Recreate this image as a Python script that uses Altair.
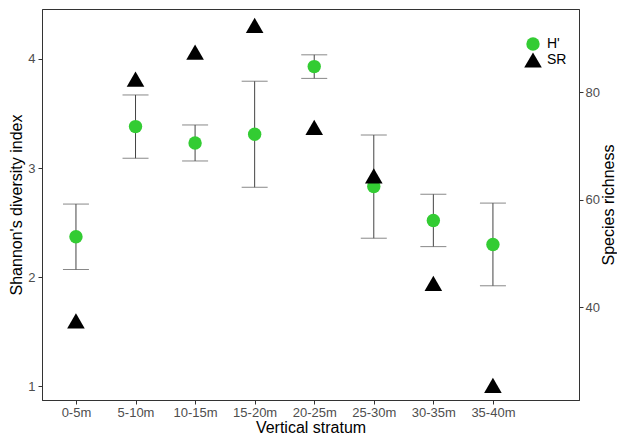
import altair as alt
import pandas as pd

# ---- data ----
strata = ["0-5m", "5-10m", "10-15m", "15-20m", "20-25m", "25-30m", "30-35m", "35-40m"]
shannon = [2.37, 3.38, 3.23, 3.31, 3.93, 2.83, 2.52, 2.30]
shannon_err = [0.30, 0.29, 0.165, 0.486, 0.108, 0.473, 0.24, 0.379]
richness = [37, 82, 87, 92, 73, 64, 44, 25]
series_names = ["H'", "SR"]
left_ticks = [1, 2, 3, 4]
right_ticks = [40, 60, 80]

idx = list(range(1, len(strata) + 1))
df_h = pd.DataFrame({"idx": idx, "stratum": strata, "H": shannon,
                     "err": shannon_err, "series": series_names[0]})
df_s = pd.DataFrame({"idx": idx, "stratum": strata, "SR": richness,
                     "series": series_names[1]})

label_expr = "[" + ",".join("'" + s + "'" for s in strata) + "][datum.value - 1]"

AX_COLOR = "#333333"
LBL_COLOR = "#4d4d4d"
LBL_SIZE = 13
TTL_SIZE = 16

common_axis = dict(grid=False, tickSize=4, labelFontSize=LBL_SIZE, titleFontSize=TTL_SIZE,
                   labelColor=LBL_COLOR, titleColor="black", titleFontWeight="normal",
                   domainColor=AX_COLOR, tickColor=AX_COLOR)

x_enc = alt.X(
    "idx:Q",
    scale=alt.Scale(domain=[0.43, 9.445], nice=False, zero=False),
    axis=alt.Axis(values=idx, labelExpr=label_expr, title="Vertical stratum",
                  labelPadding=2, titlePadding=0, labelFlush=False, **common_axis),
)

color_scale = alt.Scale(domain=series_names, range=["#33cc33", "#000000"])
shape_scale = alt.Scale(domain=series_names, range=["circle", "triangle-up"])
size_scale = alt.Scale(domain=series_names, range=[180, 310])
legend = alt.Legend(title=None, orient="none", legendX=482, legendY=28,
                    labelFontSize=14, labelColor="black", labelOffset=5,
                    rowPadding=0, symbolStrokeWidth=0, symbolOpacity=1)

h_scale = alt.Scale(domain=[0.874, 4.458], nice=False, zero=False)
y_left = alt.Y(
    "H:Q", scale=h_scale,
    axis=alt.Axis(values=left_ticks, format="d", title="Shannon's diversity index",
                  orient="left", labelPadding=3, titlePadding=3, **common_axis),
)

base_h = alt.Chart(df_h).transform_calculate(
    lo="datum.H - datum.err", hi="datum.H + datum.err"
)

err_rule = base_h.mark_rule(color="#444444", strokeWidth=1).encode(
    x=x_enc, y=alt.Y("lo:Q", scale=h_scale), y2="hi:Q",
)
cap_lo = base_h.mark_tick(orient="horizontal", size=26, thickness=1, color="#555555").encode(
    x=x_enc, y="lo:Q")
cap_hi = base_h.mark_tick(orient="horizontal", size=26, thickness=1, color="#555555").encode(
    x=x_enc, y="hi:Q")

pts_h = alt.Chart(df_h).mark_point(filled=True, opacity=1, strokeWidth=0).encode(
    x=x_enc,
    y=y_left,
    color=alt.Color("series:N", scale=color_scale, legend=legend),
    shape=alt.Shape("series:N", scale=shape_scale, legend=legend),
    size=alt.Size("series:N", scale=size_scale, legend=legend),
)

left = alt.layer(err_rule, cap_lo, cap_hi, pts_h)

pts_s = alt.Chart(df_s).mark_point(filled=True, opacity=1, strokeWidth=0, yOffset=-2.5).encode(
    x=x_enc,
    y=alt.Y("SR:Q",
            scale=alt.Scale(domain=[22.76, 95.5], nice=False, zero=False),
            axis=alt.Axis(values=right_ticks, title="Species richness",
                          orient="right", labelPadding=2, titlePadding=1,
                          titleAngle=270, titleBaseline="top", **common_axis)),
    color=alt.Color("series:N", scale=color_scale, legend=legend),
    shape=alt.Shape("series:N", scale=shape_scale, legend=legend),
    size=alt.Size("series:N", scale=size_scale, legend=legend),
)

chart = alt.layer(left, pts_s).resolve_scale(y="independent").properties(
    width=537, height=391,
    autosize=alt.AutoSizeParams(type="none"),
    padding={"left": 34, "top": 1, "right": 38, "bottom": 36},
).configure(font="Liberation Sans").configure_view(
    stroke=AX_COLOR, strokeWidth=1
)

chart.save("out.html", embed_options={"renderer": "svg", "actions": False})
